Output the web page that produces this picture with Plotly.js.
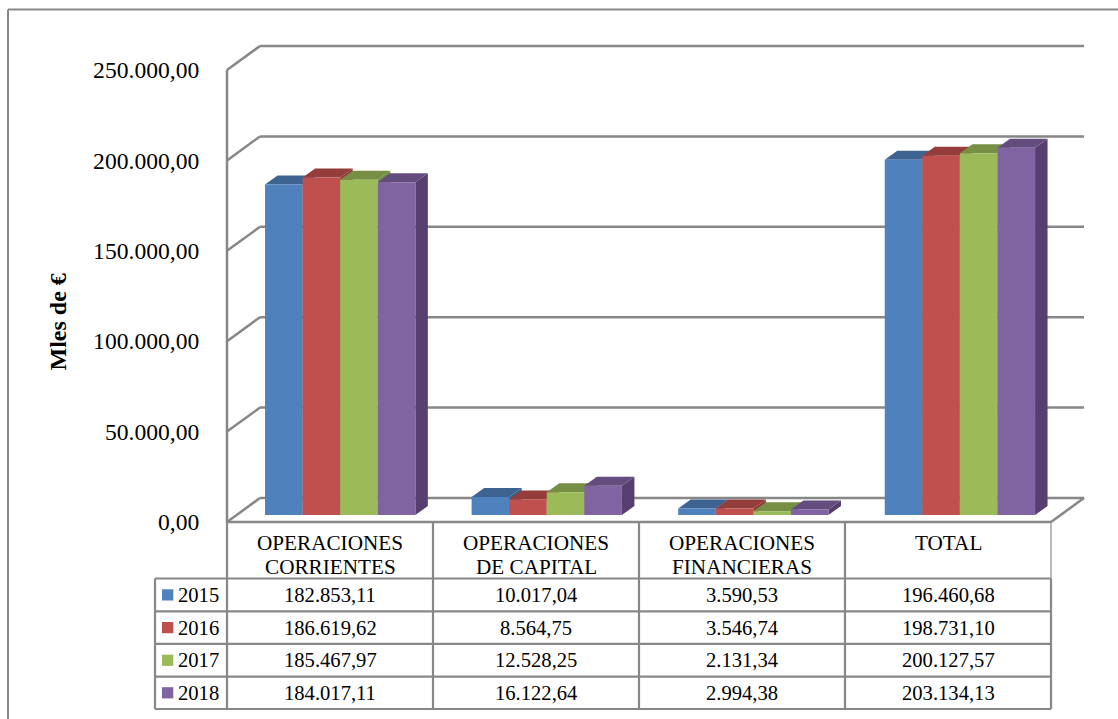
<!DOCTYPE html>
<html>
<head>
<meta charset="utf-8">
<script src="https://cdn.plot.ly/plotly-3.0.1.min.js"></script>
<style>html,body{margin:0;padding:0;background:#fff}</style>
</head>
<body>
<div id="chart" style="width:1118px;height:719px"></div>
<script>
// ---- data ----
var categoryLine1 = ['OPERACIONES', 'OPERACIONES', 'OPERACIONES', 'TOTAL'];
var categoryLine2 = ['CORRIENTES', 'DE CAPITAL', 'FINANCIERAS', ''];
var years = ['2015', '2016', '2017', '2018'];
var values2015 = [182853.11, 10017.04, 3590.53, 196460.68];
var values2016 = [186619.62, 8564.75, 3546.74, 198731.10];
var values2017 = [185467.97, 12528.25, 2131.34, 200127.57];
var values2018 = [184017.11, 16122.64, 2994.38, 203134.13];
var yTicks = [0, 50000, 100000, 150000, 200000, 250000];
var yTickLabels = ['0,00', '50.000,00', '100.000,00', '150.000,00', '200.000,00', '250.000,00'];
var frontColors = ['#4F81BD', '#C0504D', '#9BBB59', '#8064A2'];
var topColors = ['#3D6491', '#943D3A', '#768F44', '#634D7E'];
var sideColors = ['#3A5F8B', '#8C3A37', '#708840', '#553F6E'];
var series = [values2015, values2016, values2017, values2018];

// ---- geometry ----
var W = 1118, H = 719;
var xs = function (p) { return p / W; };
var ys = function (p) { return 1 - p / H; };
var pxPerValue = 452 / 250000;
var unitPx = 206;               // width of one table column
var wallLeft = 227, wallFloor = 522;
var wallDx = 33, wallDy = 24;   // depth of the chart box
var pad = 4;
var barLeft = 236.9, barRight = 1063.2, barFloor = 515, barTop = 63;
var bargap = 0.2724, barW = (1 - bargap) / 4;
var barDepthX = 12.5 / ((barRight - barLeft) / 4), barDepthY = 9 / pxPerValue;
var D = wallDx / unitPx, DV = wallDy / pxPerValue;
var nCat = categoryLine1.length;
var lineColor = '#878787';
var serif = '"Liberation Serif","Times New Roman",serif';

function es(v) {
  var s = v.toFixed(2).split('.');
  return s[0].replace(/\B(?=(\d{3})+$)/g, '.') + ',' + s[1];
}

// ---- walls ----
var wx = [], wy = [];
function seg(a, b) { wx = wx.concat(a[0], b[0], null); wy = wy.concat(a[1], b[1], null); }
yTicks.forEach(function (v) {
  seg([0, v], [D, v + DV]);
  seg([D, v + DV], [nCat + D, v + DV]);
});
seg([0, 0], [0, 250000]);
seg([0, 0], [nCat, 0]);
seg([nCat, 0], [nCat + D, DV]);

var traces = [{
  type: 'scatter', mode: 'lines', x: wx, y: wy, xaxis: 'x', yaxis: 'y',
  line: { color: lineColor, width: 2.5 }, hoverinfo: 'skip', connectgaps: false
}];

// ---- depth faces ----
series.forEach(function (vals, s) {
  var sx = [], sy = [], tx = [], ty = [];
  vals.forEach(function (v, i) {
    var L = i - 2 * barW + s * barW, R = L + barW;
    sx = sx.concat(R, R + barDepthX, R + barDepthX, R, null);
    sy = sy.concat(0, barDepthY, v + barDepthY, v, null);
    tx = tx.concat(L, L + barDepthX, R + barDepthX, R, null);
    ty = ty.concat(v, v + barDepthY, v + barDepthY, v, null);
  });
  traces.push({ type: 'scatter', mode: 'lines', x: sx, y: sy, xaxis: 'x2', yaxis: 'y2', fill: 'toself',
    fillcolor: sideColors[s], line: { width: 0 }, hoverinfo: 'skip' });
  traces.push({ type: 'scatter', mode: 'lines', x: tx, y: ty, xaxis: 'x2', yaxis: 'y2', fill: 'toself',
    fillcolor: topColors[s], line: { width: 0 }, hoverinfo: 'skip' });
});

// ---- front faces ----
series.forEach(function (vals, s) {
  traces.push({ type: 'bar', name: years[s], x: [0, 1, 2, 3], y: vals, xaxis: 'x3', yaxis: 'y3',
    marker: { color: frontColors[s], line: { width: 0 } } });
});

// ---- table ----
var shapes = [], annotations = [];
var rowLines = [578.5, 611.3, 643.9, 676.6, 709];
var tableLeft = 155;
function ln(xref, x0, x1, y0, y1, w, col) {
  shapes.push({ type: 'line', xref: xref, yref: 'paper', x0: x0, x1: x1, y0: ys(y0), y1: ys(y1),
    line: { color: col || lineColor, width: w || 2 }, layer: 'below' });
}
rowLines.forEach(function (y) { ln('paper', xs(tableLeft), xs(wallLeft + 4 * unitPx), y, y, 2.2); });
ln('paper', xs(tableLeft), xs(tableLeft), rowLines[0], rowLines[4], 2.2);
[0, 1, 2, 3].forEach(function (c) { ln('x', c, c, wallFloor, rowLines[4], 2.2); });
ln('x', 4, 4, wallFloor, rowLines[0], 1.5, '#a3a3a3');
ln('x', 4, 4, rowLines[0], rowLines[4], 2.2);
// outer frame
ln('paper', xs(8), 1, 9.5, 9.5, 2);
ln('paper', xs(8), xs(8), 9.5, H, 2);

var tableFont = { family: serif, size: 20.6, color: '#000' };
var headFont = { family: serif, size: 21.2, color: '#000' };
series.forEach(function (vals, s) {
  var yc = (rowLines[s] + rowLines[s + 1]) / 2;
  vals.forEach(function (v, c) {
    annotations.push({ xref: 'x', yref: 'paper', x: c + 0.5, y: ys(yc), text: es(v), showarrow: false,
      xanchor: 'center', yanchor: 'middle', font: tableFont });
  });
  annotations.push({ xref: 'paper', yref: 'paper', x: xs(198.5), y: ys(yc), text: years[s], showarrow: false,
    xanchor: 'center', yanchor: 'middle', font: tableFont });
  shapes.push({ type: 'rect', xref: 'paper', yref: 'paper', x0: xs(162), x1: xs(173.3), y0: ys(yc - 5.6), y1: ys(yc + 5.6),
    fillcolor: frontColors[s], line: { width: 0 } });
});
categoryLine1.forEach(function (t, c) {
  annotations.push({ xref: 'x', yref: 'paper', x: c + 0.5, y: ys(543), text: t, showarrow: false,
    xanchor: 'center', yanchor: 'middle', font: headFont });
  if (categoryLine2[c]) {
    annotations.push({ xref: 'x', yref: 'paper', x: c + 0.5, y: ys(567), text: categoryLine2[c], showarrow: false,
      xanchor: 'center', yanchor: 'middle', font: headFont });
  }
});
annotations.push({ xref: 'paper', yref: 'paper', x: xs(57.5), y: ys(322), text: '<b>Mles de €</b>', textangle: -90,
  showarrow: false, xanchor: 'center', yanchor: 'middle',
  font: { family: serif, size: 24, color: '#000' } });

var padV = pad / pxPerValue, padU = pad / unitPx;
var hidden = { visible: false, showgrid: false, zeroline: false, fixedrange: true };
function h(o) { return Object.assign({}, hidden, o); }
var layout = {
  width: W, height: H, autosize: false,
  margin: { l: 0, r: 0, t: 0, b: 0, pad: 0 },
  paper_bgcolor: '#fff', plot_bgcolor: 'rgba(0,0,0,0)',
  showlegend: false, hovermode: false,
  barmode: 'group', bargap: bargap, bargroupgap: 0,
  font: { family: serif, color: '#000' },
  xaxis: {
    domain: [xs(wallLeft - pad), xs(wallLeft + 4 * unitPx + wallDx + pad)],
    range: [-padU, 4 + D + padU], anchor: 'y', showgrid: false, zeroline: false, showline: false,
    showticklabels: false, ticks: '', fixedrange: true
  },
  yaxis: {
    domain: [ys(wallFloor + pad), ys(wallFloor - 452 - wallDy - pad)],
    range: [-padV, 250000 + DV + padV], anchor: 'x', position: 0, showgrid: false, zeroline: false, showline: false,
    tickmode: 'array', tickvals: yTicks, ticktext: yTickLabels,
    tickfont: { family: serif, size: 23.6, color: '#000' },
    ticks: 'outside', ticklen: 18, tickcolor: 'rgba(0,0,0,0)', fixedrange: true
  },
  xaxis2: h({ domain: [xs(barLeft), xs(barRight)], range: [-0.5, 3.5], anchor: 'y2' }),
  yaxis2: h({ domain: [ys(barFloor), ys(barTop)], range: [0, 250000], anchor: 'x2' }),
  xaxis3: h({ domain: [xs(barLeft), xs(barRight)], range: [-0.5, 3.5], anchor: 'y3' }),
  yaxis3: h({ domain: [ys(barFloor), ys(barTop)], range: [0, 250000], anchor: 'x3' }),
  shapes: shapes, annotations: annotations
};
Plotly.newPlot('chart', traces, layout, { displayModeBar: false, staticPlot: true });
</script>
</body>
</html>
